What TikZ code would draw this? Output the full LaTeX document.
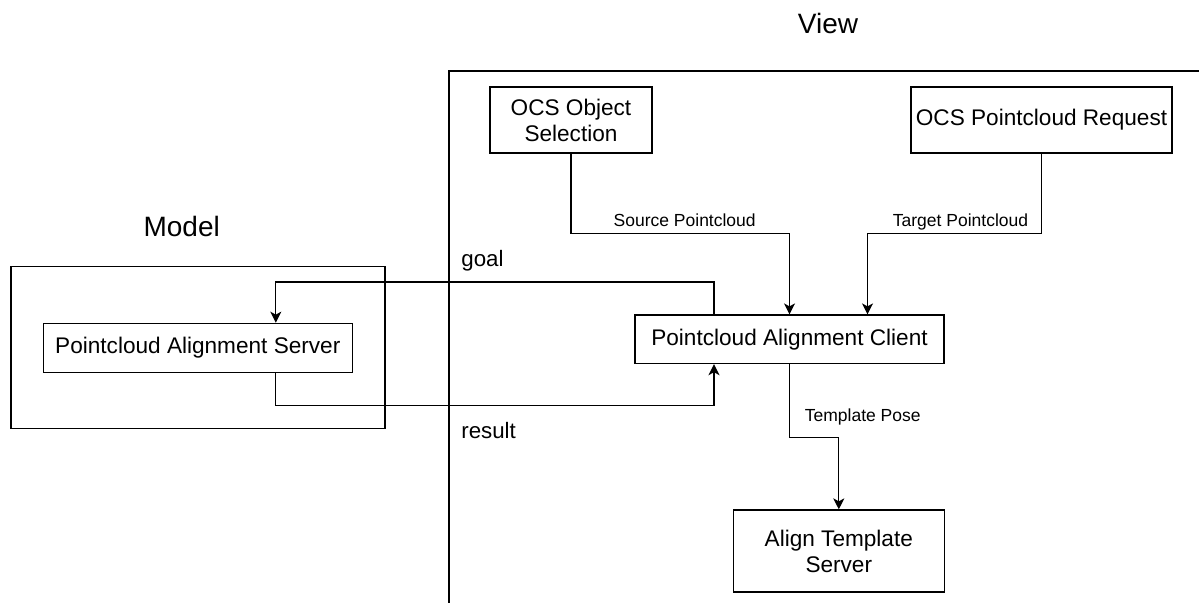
\documentclass[tikz,border=0pt]{standalone}
\usepackage{fontspec}
\setmainfont{Liberation Sans}
\usetikzlibrary{arrows.meta}
\begin{document}
\begin{tikzpicture}[x=1pt,y=-1pt,
  line width=1.3pt,
  box/.style={draw, rectangle, inner sep=0pt, align=center, font=\fontsize{22.6}{26}\selectfont},
  lbl/.style={inner sep=0pt, font=\fontsize{17.5}{20}\selectfont},
  big/.style={inner sep=0pt, font=\fontsize{28}{32}\selectfont},
  mid/.style={inner sep=0pt, font=\fontsize{22.3}{26}\selectfont},
  arr/.style={-{Stealth[length=11pt,width=11pt,inset=3pt]}, line join=miter}]
\useasboundingbox (0,0) rectangle (1199,603);
% frames
\draw (1199,71) -- (449,71) -- (449,603);
\draw (11,266.3) rectangle (385,428.7);
% titles
\node[big] (view) at (828,23.3) {View};
\node[big] (model) at (181.7,226.7) {Model};
% boxes
\node[box, minimum width=162pt, minimum height=66pt] (sel) at (571,120) {OCS Object\\Selection};
\node[box, minimum width=261pt, minimum height=66pt] (req) at (1041.5,120) {OCS Pointcloud Request};
\node[box, minimum width=309pt, minimum height=48.5pt] (cli) at (789.5,339.3) {Pointcloud Alignment Client};
\node[box, minimum width=309pt, minimum height=49pt] (srv) at (197.8,347.8) {Pointcloud Alignment Server};
\node[box, minimum width=211pt, minimum height=82pt] (ats) at (838.8,551) {Align Template\\Server};
% connectors
\draw[arr] (sel.south) -- ++(0,80) -| (cli.north);
\draw[arr] (req.south) -- ++(0,80) -| ([xshift=78pt]cli.north);
\draw[arr] ([xshift=-75.5pt]cli.north) -- ++(0,-32.3) -| ([xshift=78pt]srv.north);
\draw[arr] ([xshift=78pt]srv.south) -- ++(0,32.3) -| ([xshift=-75.5pt]cli.south);
\draw[arr] (cli.south) -- ++(0,73) -| (ats.north);
% labels
\node[lbl, anchor=base] (lsrc) at (684.7,226.5) {Source Pointcloud};
\node[lbl, anchor=base] (ltgt) at (960.5,226.5) {Target Pointcloud};
\node[lbl, anchor=base] (ltp) at (862.7,421) {Template Pose};
\node[mid, anchor=base west] (lgoal) at (460.7,266.7) {goal};
\node[mid, anchor=base west] (lres) at (460.7,438) {result};
\end{tikzpicture}
\end{document}
